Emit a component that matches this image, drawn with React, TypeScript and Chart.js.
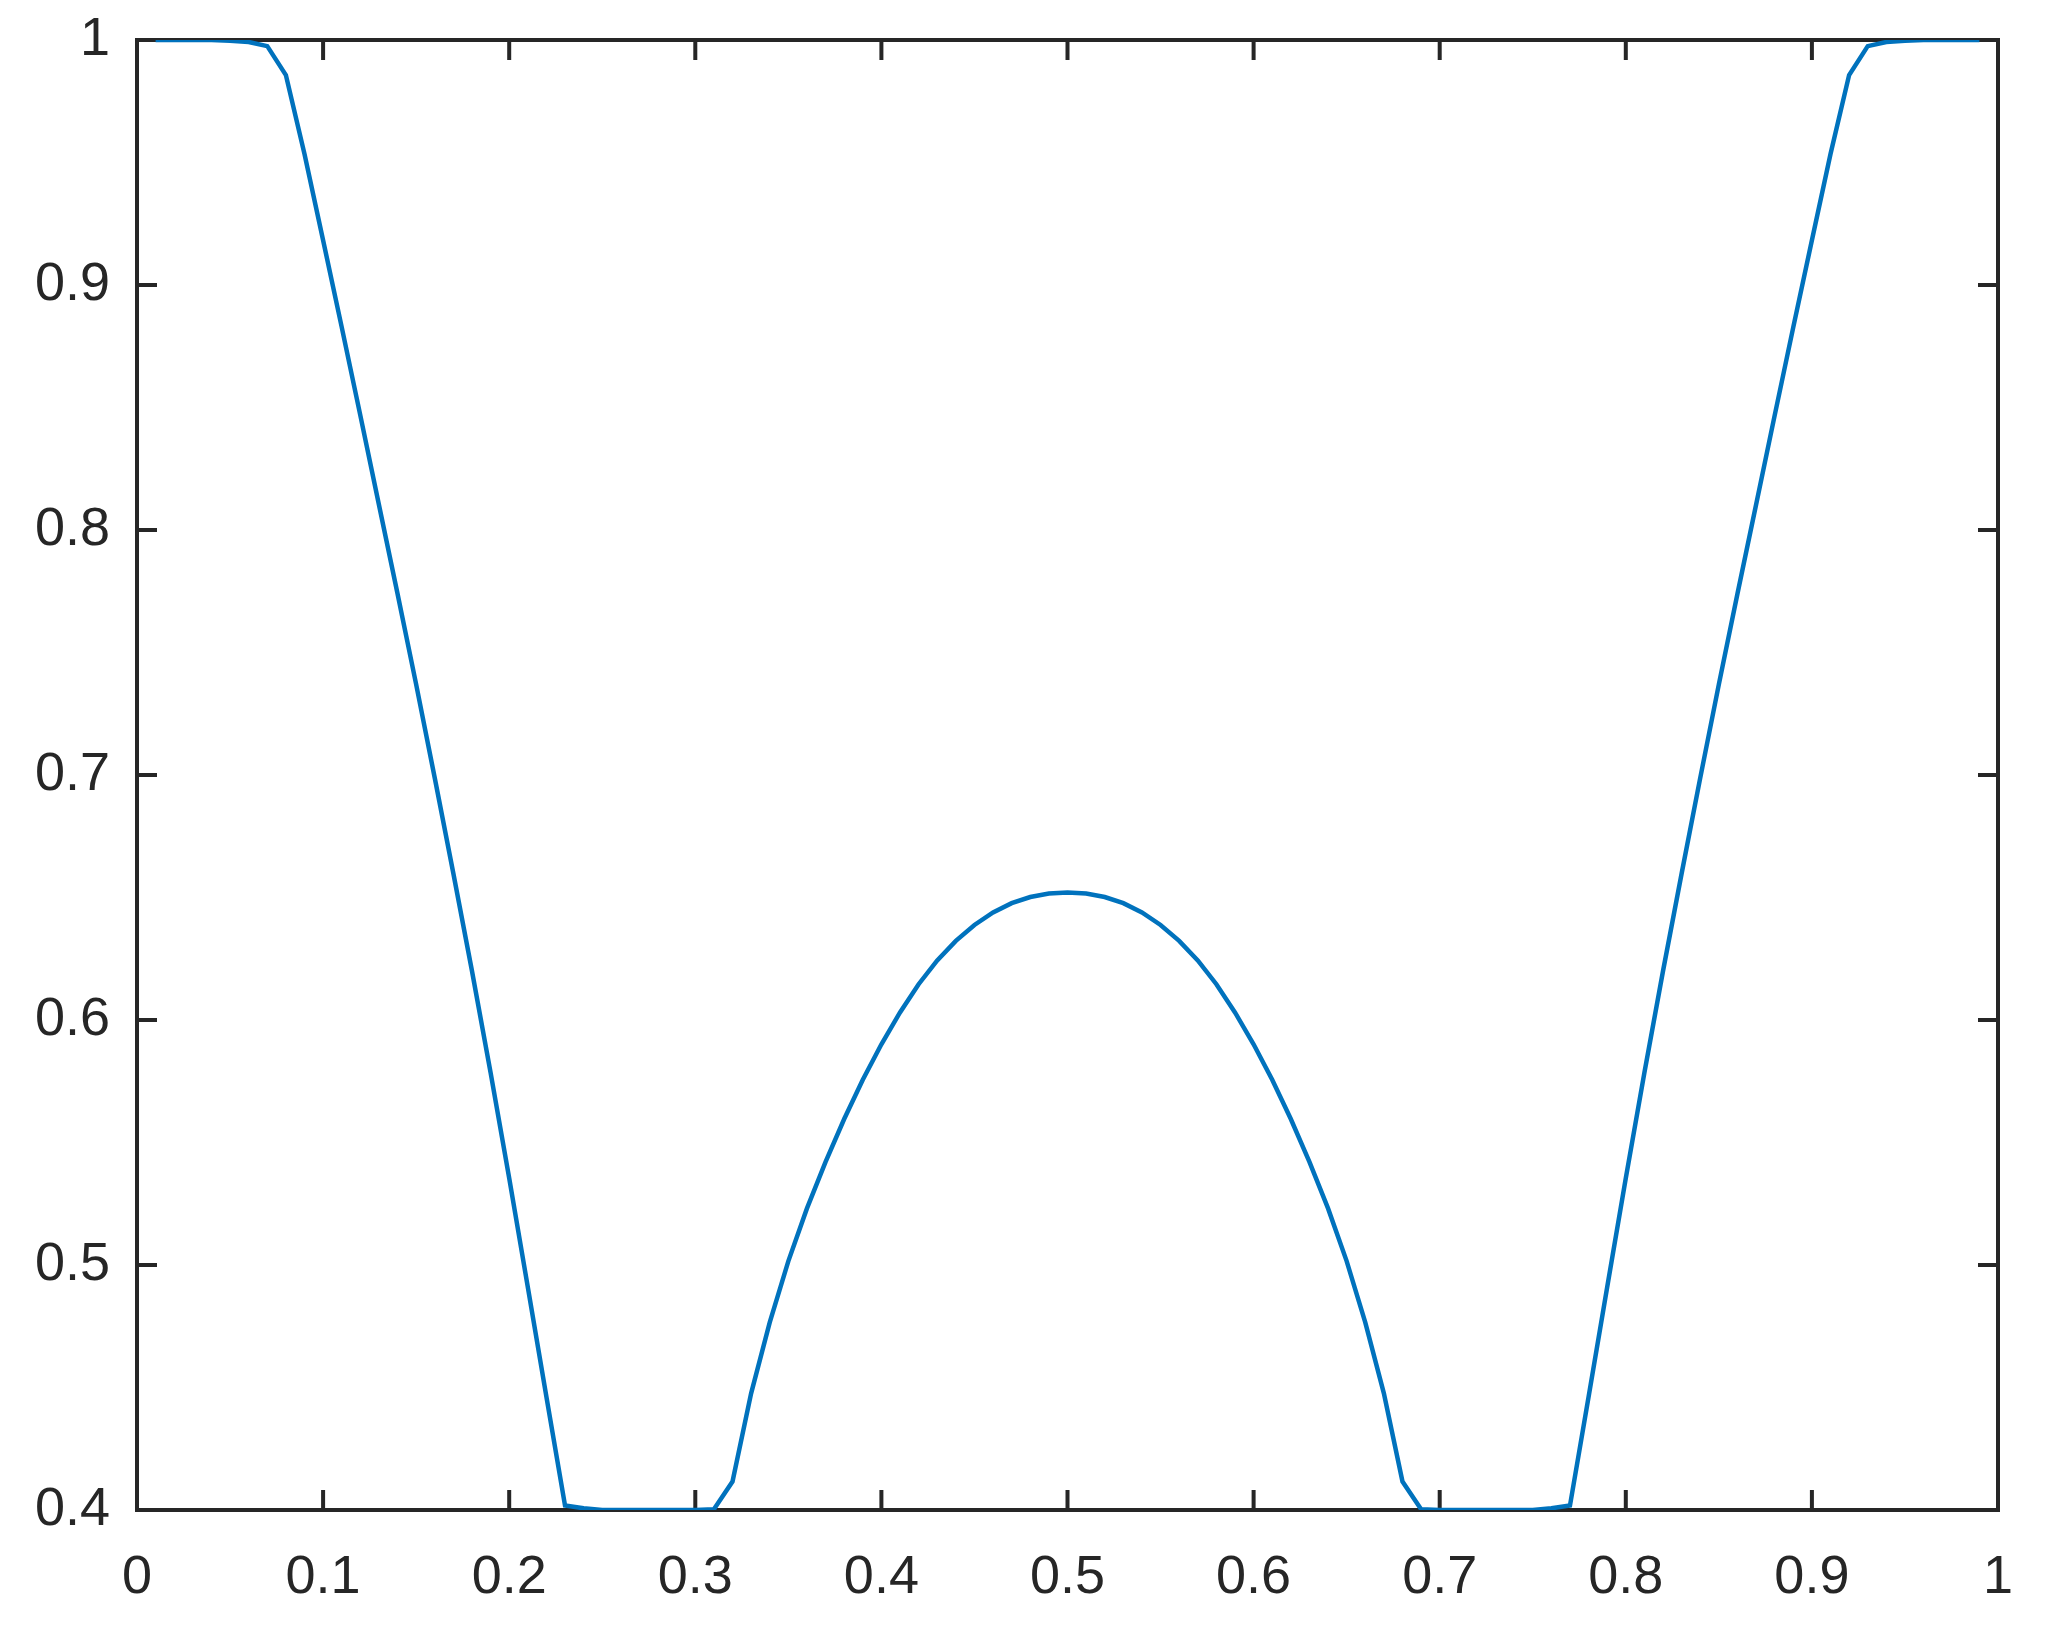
import React, { useEffect, useRef } from "react";
import { Chart, registerables } from "chart.js";

Chart.register(...registerables);

const xValues = [
  0.01, 0.02, 0.03, 0.04, 0.05, 0.06, 0.07, 0.08, 0.09, 0.1,
  0.11, 0.12, 0.13, 0.14, 0.15, 0.16, 0.17, 0.18, 0.19, 0.2,
  0.21, 0.22, 0.23, 0.24, 0.25, 0.26, 0.27, 0.28, 0.29, 0.3,
  0.31, 0.32, 0.33, 0.34, 0.35, 0.36, 0.37, 0.38, 0.39, 0.4,
  0.41, 0.42, 0.43, 0.44, 0.45, 0.46, 0.47, 0.48, 0.49, 0.5,
  0.51, 0.52, 0.53, 0.54, 0.55, 0.56, 0.57, 0.58, 0.59, 0.6,
  0.61, 0.62, 0.63, 0.64, 0.65, 0.66, 0.67, 0.68, 0.69, 0.7,
  0.71, 0.72, 0.73, 0.74, 0.75, 0.76, 0.77, 0.78, 0.79, 0.8,
  0.81, 0.82, 0.83, 0.84, 0.85, 0.86, 0.87, 0.88, 0.89, 0.9,
  0.91, 0.92, 0.93, 0.94, 0.95, 0.96, 0.97, 0.98, 0.99,
];

const yValues = [
  1, 1, 1, 1, 0.9997, 0.9992, 0.9975, 0.9857, 0.9535, 0.9183,
  0.8828, 0.8468, 0.8103, 0.774, 0.737, 0.6988, 0.6598, 0.62, 0.5785, 0.5355,
  0.491, 0.4462, 0.4018, 0.4007, 0.4, 0.4, 0.4, 0.4, 0.4, 0.4,
  0.4003, 0.4116, 0.4476, 0.4766, 0.5016, 0.5231, 0.5421, 0.5596, 0.5756, 0.5901,
  0.6031, 0.6146, 0.6243, 0.6323, 0.6388, 0.6439, 0.6477, 0.6502, 0.6516, 0.652,
  0.6516, 0.6502, 0.6477, 0.6439, 0.6388, 0.6323, 0.6243, 0.6146, 0.6031, 0.5901,
  0.5756, 0.5596, 0.5421, 0.5231, 0.5016, 0.4766, 0.4476, 0.4116, 0.4003, 0.4,
  0.4, 0.4, 0.4, 0.4, 0.4, 0.4007, 0.4018, 0.4462, 0.491, 0.5355,
  0.5785, 0.62, 0.6598, 0.6988, 0.737, 0.774, 0.8103, 0.8468, 0.8828, 0.9183,
  0.9535, 0.9857, 0.9975, 0.9992, 0.9997, 1, 1, 1, 1,
];

const xTickValues = [0, 0.1, 0.2, 0.3, 0.4, 0.5, 0.6, 0.7, 0.8, 0.9, 1];
const xTickLabels = ["0", "0.1", "0.2", "0.3", "0.4", "0.5", "0.6", "0.7", "0.8", "0.9", "1"];
const yTickValues = [0.4, 0.5, 0.6, 0.7, 0.8, 0.9, 1];
const yTickLabels = ["0.4", "0.5", "0.6", "0.7", "0.8", "0.9", "1"];

const AXIS_COLOR = "#262626";
const LINE_COLOR = "#0072BD";

const boxPlugin = {
  id: "matlabBox",
  beforeDatasetsDraw(chart: any) {
    const { ctx, chartArea } = chart;
    const { left, right, top, bottom } = chartArea;
    const xs = chart.scales.x;
    const ys = chart.scales.y;
    const tl = 20;
    ctx.save();
    ctx.strokeStyle = AXIS_COLOR;
    ctx.lineWidth = 4;
    ctx.lineCap = "butt";
    ctx.beginPath();
    for (const v of xTickValues) {
      const px = xs.getPixelForValue(v);
      ctx.moveTo(px, bottom);
      ctx.lineTo(px, bottom - tl);
      ctx.moveTo(px, top);
      ctx.lineTo(px, top + tl);
    }
    for (const v of yTickValues) {
      const py = ys.getPixelForValue(v);
      ctx.moveTo(left, py);
      ctx.lineTo(left + tl, py);
      ctx.moveTo(right, py);
      ctx.lineTo(right - tl, py);
    }
    ctx.stroke();
    ctx.lineJoin = "miter";
    ctx.strokeRect(left, top, right - left, bottom - top);
    ctx.restore();
  },
};

export default function App() {
  const canvasRef = useRef<HTMLCanvasElement | null>(null);

  useEffect(() => {
    const canvas = canvasRef.current;
    if (!canvas) return;
    const points = xValues.map((x, i) => ({ x, y: yValues[i] }));
    const font = { family: "'Liberation Sans', Arial, Helvetica, sans-serif", size: 54 };
    const chart = new Chart(canvas, {
      type: "line",
      data: {
        datasets: [
          {
            data: points,
            borderColor: LINE_COLOR,
            borderWidth: 4.5,
            pointRadius: 0,
            fill: false,
            tension: 0,
          },
        ],
      },
      options: {
        animation: false,
        responsive: false,
        devicePixelRatio: 1,
        layout: { padding: { top: 40, right: 50, left: 0, bottom: 0 } },
        plugins: { legend: { display: false }, tooltip: { enabled: false } },
        scales: {
          x: {
            type: "linear",
            position: "bottom",
            min: 0,
            max: 1,
            grid: { display: false, drawTicks: false },
            border: { display: false },
            afterBuildTicks: (scale: any) => {
              scale.ticks = xTickValues.map((v) => ({ value: v }));
            },
            afterFit: (scale: any) => {
              scale.height = 131;
              scale.paddingLeft = 0;
              scale.paddingRight = 0;
            },
            ticks: {
              color: AXIS_COLOR,
              font,
              padding: 36,
              maxRotation: 0,
              autoSkip: false,
              callback: (_v: any, i: number) => xTickLabels[i],
            },
          },
          y: {
            type: "linear",
            position: "left",
            min: 0.4,
            max: 1,
            grid: { display: false, drawTicks: false },
            border: { display: false },
            afterBuildTicks: (scale: any) => {
              scale.ticks = yTickValues.map((v) => ({ value: v }));
            },
            afterFit: (scale: any) => {
              scale.width = 137;
              scale.paddingTop = 0;
              scale.paddingBottom = 0;
            },
            ticks: {
              color: AXIS_COLOR,
              font,
              padding: 27,
              autoSkip: false,
              callback: (_v: any, i: number) => yTickLabels[i],
            },
          },
        },
      },
      plugins: [boxPlugin],
    });
    return () => chart.destroy();
  }, []);

  return (
    <div
      style={{
        position: "fixed",
        left: 0,
        top: 0,
        width: 2048,
        height: 1641,
        background: "#ffffff",
      }}
    >
      <canvas ref={canvasRef} width={2048} height={1641} style={{ display: "block" }} />
    </div>
  );
}
